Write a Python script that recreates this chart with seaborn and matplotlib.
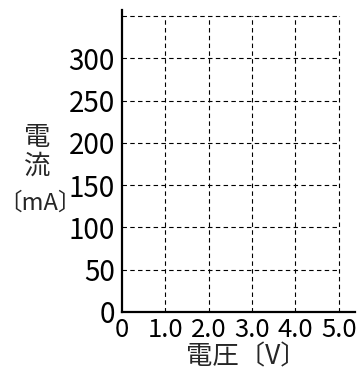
import seaborn as sns
import matplotlib.pyplot as plt

# axis values
x_ticks = [0, 1, 2, 3, 4, 5]
x_tick_labels = ['0', '1.0', '2.0', '3.0', '4.0', '5.0']
y_ticks = [0, 50, 100, 150, 200, 250, 300]
y_tick_labels = ['0', '50', '100', '150', '200', '250', '300']
grid_x = [1, 2, 3, 4, 5]
grid_y = [50, 100, 150, 200, 250, 300, 350]

sns.set_style('white')
plt.rcParams['font.family'] = ['Noto Sans CJK JP', 'DejaVu Sans']

fig = plt.figure(figsize=(3.64, 3.74), dpi=100)
ax = fig.add_axes([0.335, 0.166, 0.64, 0.807])

# dashed grid, limited to the 0-5 / 0-350 box
ax.hlines(grid_y, 0, 5, colors='black', linestyles=(0, (4, 3)), linewidth=0.8)
ax.vlines(grid_x, 0, 350, colors='black', linestyles=(0, (4, 3)), linewidth=0.8)

ax.set_xlim(0, 5.37)
ax.set_ylim(0, 357)
ax.set_xticks(x_ticks)
ax.set_xticklabels(x_tick_labels)
ax.set_yticks(y_ticks)
ax.set_yticklabels(y_tick_labels)
ax.tick_params(length=0, colors='black')
ax.tick_params(axis='y', pad=5, labelsize=20)
ax.tick_params(axis='x', pad=4, labelsize=18.5)

sns.despine(ax=ax)
for s in ['left', 'bottom']:
    ax.spines[s].set_linewidth(1.6)
    ax.spines[s].set_color('black')

ax.set_xlabel('電圧〔V〕', fontsize=19)
ax.xaxis.set_label_coords(0.535, -0.105)
# vertical label, unit on its own line below
ax.set_ylabel('電\n流', fontsize=19, rotation=0, ha='center', va='center',
              linespacing=1.1)
ax.yaxis.set_label_coords(-0.365, 0.53)
ax.text(-0.35, 0.36, '〔mA〕', transform=ax.transAxes, fontsize=17,
        ha='center', va='center')

fig.savefig('out.png', dpi=100)
